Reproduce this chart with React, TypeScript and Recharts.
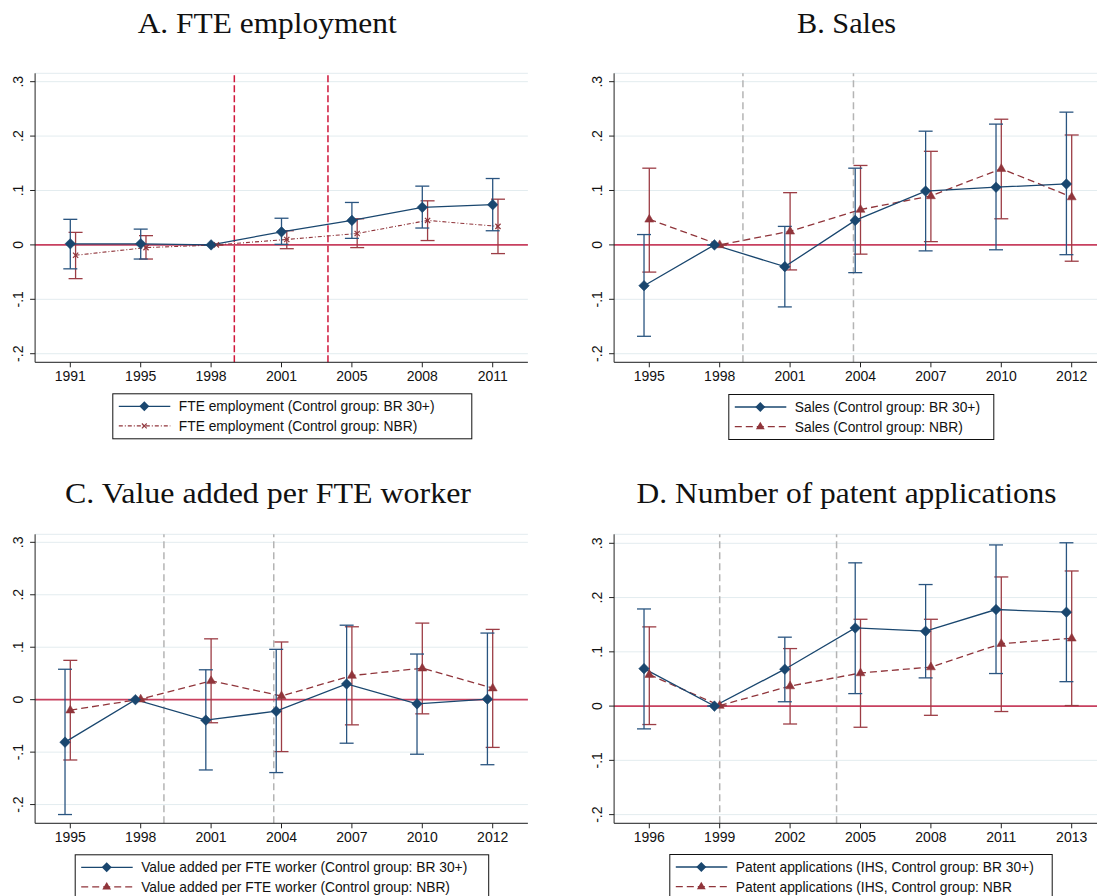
import React from 'react';
import { ComposedChart, Line, XAxis, YAxis, CartesianGrid, ReferenceLine, ErrorBar } from 'recharts';

// ---------- data ----------
const yearsA = ['1991', '1995', '1998', '2001', '2005', '2008', '2011'];
const yearsB = ['1995', '1998', '2001', '2004', '2007', '2010', '2012'];
const yearsC = ['1995', '1998', '2001', '2004', '2007', '2010', '2012'];
const yearsD = ['1996', '1999', '2002', '2005', '2008', '2011', '2013'];

const yTickValues = [-0.2, -0.1, 0, 0.1, 0.2, 0.3];
const yTickLabels = ['-.2', '-.1', '0', '.1', '.2', '.3'];

// A. FTE employment
const fteBR = [0.002, 0.002, 0, 0.024, 0.045, 0.069, 0.074];
const fteBRLo = [-0.044, -0.026, 0, 0.001, 0.012, 0.031, 0.026];
const fteBRHi = [0.047, 0.029, 0, 0.049, 0.078, 0.108, 0.122];
const fteNBR = [-0.019, -0.005, 0, 0.010, 0.021, 0.045, 0.034];
const fteNBRLo = [-0.062, -0.026, 0, -0.007, -0.005, 0.008, -0.016];
const fteNBRHi = [0.023, 0.017, 0, 0.026, 0.048, 0.081, 0.084];

// B. Sales
const salesBR = [-0.075, 0, -0.040, 0.045, 0.099, 0.106, 0.112];
const salesBRLo = [-0.168, 0, -0.114, -0.051, -0.011, -0.009, -0.018];
const salesBRHi = [0.019, 0, 0.034, 0.141, 0.209, 0.222, 0.244];
const salesNBR = [0.047, 0, 0.025, 0.065, 0.090, 0.140, 0.088];
const salesNBRLo = [-0.050, 0, -0.046, -0.017, 0.006, 0.048, -0.030];
const salesNBRHi = [0.141, 0, 0.096, 0.146, 0.172, 0.231, 0.202];

// C. Value added per FTE worker
const vaBR = [-0.081, 0, -0.039, -0.022, 0.030, -0.008, 0.001];
const vaBRLo = [-0.219, 0, -0.134, -0.139, -0.083, -0.104, -0.124];
const vaBRHi = [0.058, 0, 0.057, 0.096, 0.142, 0.087, 0.127];
const vaNBR = [-0.020, 0.001, 0.036, 0.007, 0.046, 0.060, 0.022];
const vaNBRLo = [-0.115, 0.001, -0.044, -0.099, -0.048, -0.027, -0.091];
const vaNBRHi = [0.075, 0.001, 0.116, 0.110, 0.139, 0.146, 0.134];

// D. Number of patent applications
const patBR = [0.069, 0, 0.068, 0.144, 0.138, 0.178, 0.173];
const patBRLo = [-0.042, 0, 0.008, 0.023, 0.052, 0.060, 0.045];
const patBRHi = [0.179, 0, 0.127, 0.264, 0.224, 0.297, 0.301];
const patNBR = [0.058, 0.001, 0.037, 0.061, 0.072, 0.115, 0.125];
const patNBRLo = [-0.034, 0.001, -0.033, -0.039, -0.017, -0.010, 0.001];
const patNBRHi = [0.146, 0.001, 0.106, 0.160, 0.160, 0.238, 0.249];

// event markers (position on the category index axis)
const markersA = [3.33, 4.66];
const markersB = [2.33, 3.9];
const markersC = [2.33, 3.89];
const markersD = [2.0, 3.66];

// ---------- styling ----------
const NAVY = '#1a476f';
const NAVY_CI = '#2a5580';
const MAROON = '#90353b';
const MAROON_CI = '#9c3d45';
const SANS = '"Liberation Sans", Arial, Helvetica, sans-serif';
const SERIF = '"Liberation Serif", "Times New Roman", serif';

function series(v: number[], lo: number[], hi: number[], shift: number) {
  return v.map((y, i) => ({ x: i + 1 + shift, y, err: [y - lo[i], hi[i] - y] }));
}

const Diamond = (props: any) => {
  const { cx, cy, index } = props;
  if (cx == null || cy == null) return <g key={index} />;
  const r = 5.3;
  return (
    <polygon
      key={index}
      points={`${cx},${cy - r} ${cx + r},${cy} ${cx},${cy + r} ${cx - r},${cy}`}
      fill={NAVY}
      stroke={NAVY}
      strokeWidth={0.5}
    />
  );
};

const Triangle = (props: any) => {
  const { cx, cy, index } = props;
  if (cx == null || cy == null) return <g key={index} />;
  return (
    <polygon
      key={index}
      points={`${cx},${cy - 5} ${cx + 4.5},${cy + 2.8} ${cx - 4.5},${cy + 2.8}`}
      fill={MAROON}
      stroke={MAROON}
      strokeWidth={0.5}
    />
  );
};

const XMark = (props: any) => {
  const { cx, cy, index } = props;
  if (cx == null || cy == null) return <g key={index} />;
  const r = 2.6;
  return (
    <g key={index} stroke={MAROON} strokeWidth={1.2}>
      <line x1={cx - r} y1={cy - r} x2={cx + r} y2={cy + r} />
      <line x1={cx - r} y1={cy + r} x2={cx + r} y2={cy - r} />
    </g>
  );
};

const makeXTick = (years: string[]) => (props: any) => {
  const { x, y, payload } = props;
  return (
    <text x={x} y={y + 12} textAnchor="middle" fontFamily={SANS} fontSize={14} fill="#111">
      {years[Math.round(payload.value) - 1]}
    </text>
  );
};

const YTick = (props: any) => {
  const { x, y, payload } = props;
  const idx = yTickValues.findIndex((t) => Math.abs(t - payload.value) < 1e-9);
  return (
    <text
      x={0}
      y={0}
      transform={`translate(${x - 5},${y}) rotate(-90)`}
      textAnchor="middle"
      fontFamily={SANS}
      fontSize={14}
      fill="#111"
    >
      {idx >= 0 ? yTickLabels[idx] : ''}
    </text>
  );
};

type PanelProps = {
  left: number;
  top: number;
  years: string[];
  blue: any[];
  red: any[];
  domain: [number, number];
  markers: number[];
  markerColor: string;
  markerDash: string;
  redKind: 'x' | 'triangle';
};

function Panel(p: PanelProps) {
  const XTick = makeXTick(p.years);
  return (
    <div style={{ position: 'absolute', left: p.left, top: p.top }}>
      <ComposedChart width={545} height={400} margin={{ top: 73.3, right: 17.1, bottom: 7.7, left: 0 }}>
        <CartesianGrid vertical={false} stroke="#e3ecef" strokeWidth={1} />
        <XAxis
          type="number"
          dataKey="x"
          domain={[0.5, 7.5]}
          ticks={[1, 2, 3, 4, 5, 6, 7]}
          interval={0}
          allowDataOverflow
          height={30}
          tickSize={5}
          tickMargin={2}
          tick={XTick}
          axisLine={{ stroke: '#222', strokeWidth: 1 }}
          tickLine={{ stroke: '#222', strokeWidth: 1 }}
        />
        <YAxis
          type="number"
          domain={p.domain}
          ticks={yTickValues}
          interval={0}
          allowDataOverflow
          width={35.1}
          tickSize={5}
          tickMargin={2}
          tick={YTick}
          axisLine={{ stroke: '#222', strokeWidth: 1 }}
          tickLine={{ stroke: '#222', strokeWidth: 1 }}
        />
        {p.markers.map((m, i) => (
          <ReferenceLine
            key={'m' + i}
            x={m}
            stroke={p.markerColor}
            strokeWidth={1.5}
            strokeDasharray={p.markerDash}
            ifOverflow="extendDomain"
          />
        ))}
        <ReferenceLine y={0} stroke="#c9405f" strokeWidth={1.8} />
        <Line
          data={p.red}
          dataKey="y"
          type="linear"
          stroke={MAROON}
          strokeWidth={p.redKind === 'x' ? 1.1 : 1.3}
          strokeDasharray={p.redKind === 'x' ? '4 2 1 2' : '7 4'}
          dot={p.redKind === 'x' ? XMark : Triangle}
          activeDot={false}
          isAnimationActive={false}
        >
          <ErrorBar dataKey="err" width={7} stroke={MAROON_CI} strokeWidth={1.3} direction="y" />
        </Line>
        <Line
          data={p.blue}
          dataKey="y"
          type="linear"
          stroke={NAVY}
          strokeWidth={1.3}
          dot={Diamond}
          activeDot={false}
          isAnimationActive={false}
        >
          <ErrorBar dataKey="err" width={7} stroke={NAVY_CI} strokeWidth={1.3} direction="y" />
        </Line>
      </ComposedChart>
    </div>
  );
}

type LegendRow = { label: string; color: string; dash?: string; kind: 'diamond' | 'triangle' | 'x' };

function LegendBox({ left, top, width, height, rows }: { left: number; top: number; width: number; height: number; rows: LegendRow[] }) {
  const rowY = [13, 32.6];
  return (
    <g>
      <rect x={left + 0.5} y={top + 0.5} width={width} height={height} fill="#fff" stroke="#111" strokeWidth={1} />
      {rows.map((r, i) => {
        const cy = top + rowY[i];
        const x1 = left + 6.5;
        const x2 = left + 58;
        const mx = left + 32;
        let marker: any = null;
        if (r.kind === 'diamond') {
          const s = 5;
          marker = <polygon points={`${mx},${cy - s} ${mx + s},${cy} ${mx},${cy + s} ${mx - s},${cy}`} fill={r.color} />;
        } else if (r.kind === 'triangle') {
          marker = <polygon points={`${mx},${cy - 4.8} ${mx + 4.4},${cy + 2.7} ${mx - 4.4},${cy + 2.7}`} fill={r.color} />;
        } else {
          const s = 2.4;
          marker = (
            <g stroke={r.color} strokeWidth={1.1}>
              <line x1={mx - s} y1={cy - s} x2={mx + s} y2={cy + s} />
              <line x1={mx - s} y1={cy + s} x2={mx + s} y2={cy - s} />
            </g>
          );
        }
        return (
          <g key={i}>
            <line x1={x1} y1={cy} x2={x2} y2={cy} stroke={r.color} strokeWidth={1.3} strokeDasharray={r.dash} />
            {marker}
            <text x={left + 66.5} y={cy + 5} fontFamily={SANS} fontSize={13.8} fill="#111">
              {r.label}
            </text>
          </g>
        );
      })}
    </g>
  );
}

export default function App() {
  const domAB: [number, number] = [-0.2158, 0.3154];
  const domC: [number, number] = [-0.2357, 0.3153];
  const domD: [number, number] = [-0.216, 0.3166];
  return (
    <div
      style={{
        position: 'absolute',
        left: 0,
        top: 0,
        width: 1097,
        height: 896,
        overflow: 'hidden',
        background: '#fff',
      }}
    >
      <Panel
        left={0}
        top={0}
        years={yearsA}
        blue={series(fteBR, fteBRLo, fteBRHi, 0)}
        red={series(fteNBR, fteNBRLo, fteNBRHi, 0.075)}
        domain={domAB}
        markers={markersA}
        markerColor="#d0183c"
        markerDash="7 3"
        redKind="x"
      />
      <Panel
        left={579.1}
        top={0}
        years={yearsB}
        blue={series(salesBR, salesBRLo, salesBRHi, -0.075)}
        red={series(salesNBR, salesNBRLo, salesNBRHi, 0)}
        domain={domAB}
        markers={markersB}
        markerColor="#b4b4b4"
        markerDash="7 4"
        redKind="triangle"
      />
      <Panel
        left={0}
        top={461}
        years={yearsC}
        blue={series(vaBR, vaBRLo, vaBRHi, -0.075)}
        red={series(vaNBR, vaNBRLo, vaNBRHi, 0)}
        domain={domC}
        markers={markersC}
        markerColor="#b4b4b4"
        markerDash="7 4"
        redKind="triangle"
      />
      <Panel
        left={579.1}
        top={461}
        years={yearsD}
        blue={series(patBR, patBRLo, patBRHi, -0.075)}
        red={series(patNBR, patNBRLo, patNBRHi, 0)}
        domain={domD}
        markers={markersD}
        markerColor="#b4b4b4"
        markerDash="7 4"
        redKind="triangle"
      />
      <svg
        width={1097}
        height={896}
        style={{ position: 'absolute', left: 0, top: 0, pointerEvents: 'none' }}
      >
        <text x={267.2} y={33.3} textAnchor="middle" fontFamily={SERIF} fontSize={30} fill="#111" textLength={259} lengthAdjust="spacingAndGlyphs">
          A. FTE employment
        </text>
        <text x={846.6} y={33.3} textAnchor="middle" fontFamily={SERIF} fontSize={30} fill="#111" textLength={99} lengthAdjust="spacingAndGlyphs">
          B. Sales
        </text>
        <text x={268} y={503.3} textAnchor="middle" fontFamily={SERIF} fontSize={30} fill="#111" textLength={406} lengthAdjust="spacingAndGlyphs">
          C. Value added per FTE worker
        </text>
        <text x={846.6} y={503.3} textAnchor="middle" fontFamily={SERIF} fontSize={30} fill="#111" textLength={420} lengthAdjust="spacingAndGlyphs">
          D. Number of patent applications
        </text>
        <LegendBox
          left={112.3}
          top={393.3}
          width={359}
          height={45}
          rows={[
            { label: 'FTE employment (Control group: BR 30+)', color: NAVY, kind: 'diamond' },
            { label: 'FTE employment (Control group: NBR)', color: MAROON, dash: '4 2 1 2', kind: 'x' },
          ]}
        />
        <LegendBox
          left={728.3}
          top={394}
          width={265}
          height={45}
          rows={[
            { label: 'Sales (Control group: BR 30+)', color: NAVY, kind: 'diamond' },
            { label: 'Sales (Control group: NBR)', color: MAROON, dash: '7 4', kind: 'triangle' },
          ]}
        />
        <LegendBox
          left={74.7}
          top={854.3}
          width={413.5}
          height={46}
          rows={[
            { label: 'Value added per FTE worker (Control group: BR 30+)', color: NAVY, kind: 'diamond' },
            { label: 'Value added per FTE worker (Control group: NBR)', color: MAROON, dash: '7 4', kind: 'triangle' },
          ]}
        />
        <LegendBox
          left={669.3}
          top={854}
          width={382.4}
          height={46}
          rows={[
            { label: 'Patent applications (IHS, Control group: BR 30+)', color: NAVY, kind: 'diamond' },
            { label: 'Patent applications (IHS, Control group: NBR', color: MAROON, dash: '7 4', kind: 'triangle' },
          ]}
        />
      </svg>
    </div>
  );
}
